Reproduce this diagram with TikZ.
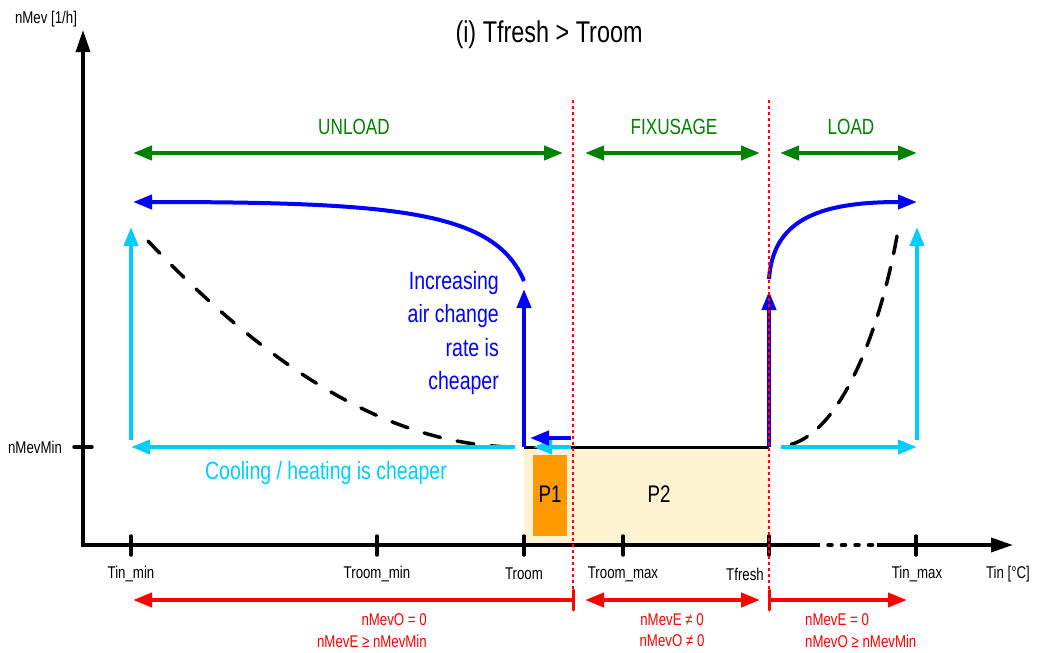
\documentclass[tikz,border=0pt]{standalone}
\usepackage{fontspec}
\setmainfont{Liberation Sans}[FakeStretch=0.78]
\usetikzlibrary{arrows.meta}

\definecolor{fanblue}{RGB}{0,0,255}
\definecolor{hvaccyan}{RGB}{0,204,255}
\definecolor{zonegreen}{RGB}{0,128,0}
\definecolor{limred}{RGB}{255,0,0}
\definecolor{pzone}{RGB}{253,242,209}
\definecolor{porange}{RGB}{255,153,0}

\newcommand{\fs}[1]{\fontsize{#1}{#1}\selectfont}

\begin{document}
\begin{tikzpicture}[x=1pt,y=-1pt,
  tipA/.style={-{Triangle[length=19pt,width=14pt]}},
  tipAA/.style={{Triangle[length=19pt,width=14pt]}-{Triangle[length=19pt,width=14pt]}},
  axisline/.style={line width=3.5pt,black},
  tickline/.style={line width=3.5pt,black,line cap=round},
  bluecurve/.style={line width=4pt,fanblue},
  cyanline/.style={line width=4pt,hvaccyan},
  greenline/.style={line width=4pt,zonegreen,tipAA},
  redline/.style={line width=4pt,limred},
  redbar/.style={line width=3pt,limred,line cap=round},
  bounddot/.style={line width=1.6pt,limred,dash pattern=on 3pt off 3pt},
  costcurve/.style={line width=3.5pt,black,line cap=round},
  axlabel/.style={font=\fs{17},inner sep=0pt},
  redtext/.style={font=\fs{17},text=limred,inner sep=0pt},
  zonelabel/.style={font=\fs{22},text=zonegreen,inner sep=0pt},
]
\useasboundingbox (0,0) rectangle (1037,653);

% operating zones P2 (beige) and P1 (orange)
\fill[pzone] (524,447) rectangle (769,545);
\fill[porange] (533,455) rectangle (567,536);
\node[font=\fs{24},inner sep=0pt] (p1) at (550,494) {P1};
\node[font=\fs{24},inner sep=0pt] (p2) at (659,494) {P2};

% axes
\coordinate (origin) at (83,545);
\coordinate (ytop) at (83,30);
\coordinate (gapL) at (820,545);
\coordinate (gapR) at (877,545);
\coordinate (xend) at (1013,545);
\draw[axisline,-{Triangle[length=22pt,width=14pt]}] (83,547) -- (ytop);
\draw[axisline] (81.25,545) -- (gapL);
\foreach \d in {830,843.5,857,870.5}
  \draw[line width=3.5pt,line cap=round] (\d-2,545) -- (\d+2,545);
\draw[axisline,-{Triangle[length=22pt,width=14pt]}] (gapR) -- (xend);

% ticks and their labels
\foreach \x/\nm/\lab/\lx in {131/tinmin/Tin\_min/131, 377/troommin/Troom\_min/377,
    524/troom/Troom/524, 623/troommax/Troom\_max/623, 769/tfresh/Tfresh/745,
    916/tinmax/Tin\_max/917} {
  \draw[tickline] (\x,536) -- (\x,555);
  \node[axlabel] (lab-\nm) at (\lx,574) {\lab};
}
\node[axlabel] (xunit) at (1008,574) {Tin [°C]};
\draw[tickline] (74,447) -- (92,447);
\node[axlabel] (nmevmin) at (35,447) {nMevMin};
\node[axlabel] (yunit) at (46,19) {nMev [1/h]};

% title
\node[font=\fs{30},inner sep=0pt] (title) at (549,35) {(i) Tfresh > Troom};

% zone arrows
\node[zonelabel] (unload) at (354,127) {UNLOAD};
\node[zonelabel] (fixusage) at (674,127) {FIXUSAGE};
\node[zonelabel] (load) at (851,127) {LOAD};
\coordinate (g1a) at (133,153); \coordinate (g1b) at (563,153);
\coordinate (g2a) at (585,153); \coordinate (g2b) at (760,153);
\coordinate (g3a) at (780,153); \coordinate (g3b) at (917,153);
\draw[greenline] (g1a) -- (g1b);
\draw[greenline] (g2a) -- (g2b);
\draw[greenline] (g3a) -- (g3b);

% minimum air change line
\coordinate (minL) at (524,447);
\coordinate (minR) at (769,447);
\draw[line width=3pt,black] (minL) -- (minR);

% cost curves (dashed)
\coordinate (dl0) at (148,241);
\coordinate (dl1) at (518,447);
\draw[costcurve,dash pattern=on 17pt off 17pt]
  (dl0) .. controls (280,380) and (400,447) .. (dl1);
\coordinate (dr0) at (897,236);
\coordinate (dr1) at (784,446);
\draw[costcurve,dash pattern=on 18pt off 14pt]
  (dr0) .. controls (880,330) and (840,438) .. (dr1);

% cooling / heating branch (cyan)
\coordinate (cl0) at (515,447);  \coordinate (cl1) at (131,447);
\coordinate (cl2) at (131,440);  \coordinate (cl3) at (131,227);
\coordinate (cs0) at (571,447);  \coordinate (cs1) at (533,447);
\coordinate (cr0) at (781,447);  \coordinate (cr1) at (917,447);
\coordinate (cr2) at (917,440);  \coordinate (cr3) at (917,227);
\draw[cyanline,tipA] (cl0) -- (cl1);
\draw[cyanline,tipA] (cl2) -- (cl3);
\draw[cyanline,tipA] (cs0) -- (cs1);
\draw[cyanline,tipA] (cr0) -- (cr1);
\draw[cyanline,tipA] (cr2) -- (cr3);
\node[font=\fs{25},text=hvaccyan,inner sep=0pt] (cooltext) at (326,473)
  {Cooling / heating is cheaper};

% air change branch (blue)
\coordinate (bl0) at (524,447);  \coordinate (bl1) at (524,289);
\coordinate (bc0) at (524,281);  \coordinate (bc1) at (133,202);
\coordinate (bs0) at (571,438);  \coordinate (bs1) at (530,438);
\coordinate (br0) at (769,447);  \coordinate (br1) at (769,291);
\coordinate (bd0) at (769,279);  \coordinate (bd1) at (917,202);
\draw[bluecurve,tipA] (bl0) -- (bl1);
\draw[bluecurve,tipA] (bc0) .. controls (495,212) and (400,202) .. (bc1);
\draw[bluecurve,tipA] (bs0) -- (bs1);
\draw[bluecurve,tipA] (br0) -- (br1);
\draw[bluecurve,tipA] (bd0) .. controls (773,222) and (815,202) .. (bd1);
\node[font=\fontsize{25}{33.5}\selectfont,text=fanblue,inner sep=0pt,
      align=right,anchor=north east]
  (airtext) at (499,271)
  {Increasing\\air change\\rate is\\cheaper};

% zone boundaries
\coordinate (vb1t) at (573,100); \coordinate (vb1b) at (573,592);
\coordinate (vb2t) at (769,100); \coordinate (vb2b) at (769,592);
\draw[bounddot] (vb1t) -- (vb1b);
\draw[bounddot] (vb2t) -- (vb2b);

% operating ranges (red)
\coordinate (rb1t) at (573,590); \coordinate (rb1b) at (573,610);
\coordinate (rb2t) at (769,590); \coordinate (rb2b) at (769,610);
\draw[redbar] (rb1t) -- (rb1b);
\draw[redbar] (rb2t) -- (rb2b);
\coordinate (r1a) at (573,600); \coordinate (r1b) at (133,600);
\coordinate (r2a) at (585,600); \coordinate (r2b) at (760,600);
\coordinate (r3a) at (769,600); \coordinate (r3b) at (907,600);
\draw[redline,tipA] (r1a) -- (r1b);
\draw[redline,tipAA] (r2a) -- (r2b);
\draw[redline,tipA] (r3a) -- (r3b);
\node[redtext,anchor=east] (r1l1) at (427,620) {nMevO = 0};
\node[redtext,anchor=east] (r1l2) at (427,641) {nMevE ≥ nMevMin};
\node[redtext] (r2l1) at (672,620) {nMevE ≠ 0};
\node[redtext] (r2l2) at (672,641) {nMevO ≠ 0};
\node[redtext,anchor=west] (r3l1) at (805,620) {nMevE = 0};
\node[redtext,anchor=west] (r3l2) at (805,641) {nMevO ≥ nMevMin};
\end{tikzpicture}
\end{document}
